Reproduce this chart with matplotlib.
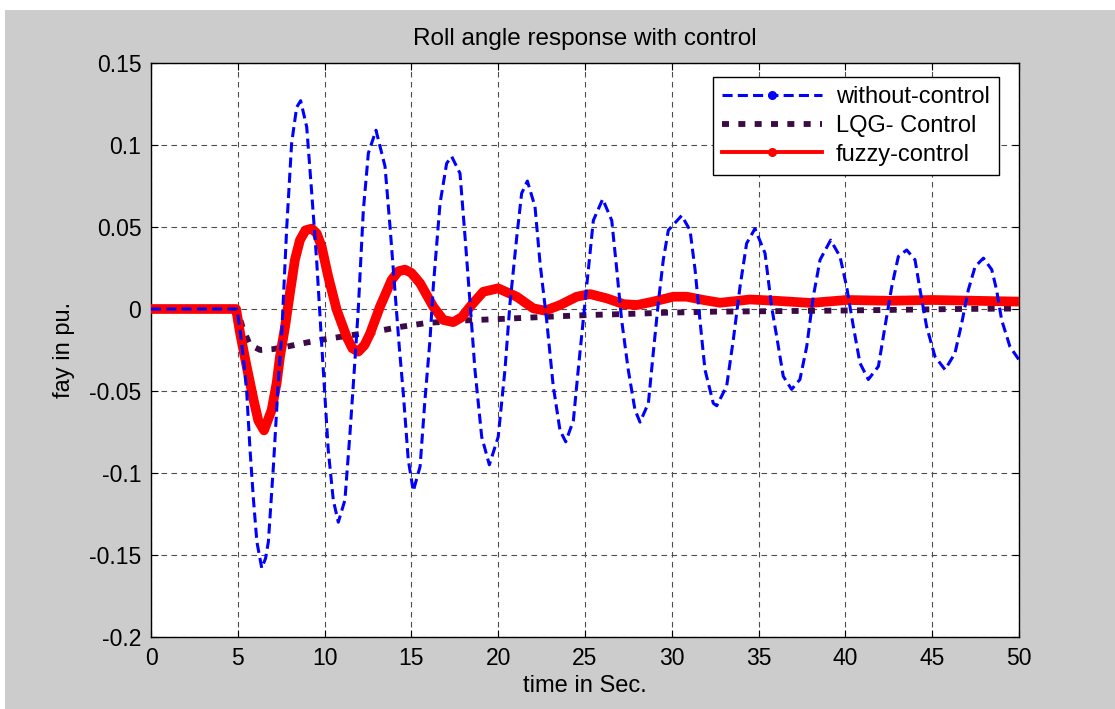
import matplotlib
matplotlib.use("Agg")
import matplotlib.pyplot as plt
from matplotlib.lines import Line2D
from matplotlib.patches import Rectangle

plt.rcParams['font.family'] = ['Liberation Sans', 'DejaVu Sans']
plt.rcParams['axes.unicode_minus'] = False

# without-control (blue dashed)
t_wo = [0, 4.95, 5.13, 5.32, 5.51, 5.7, 5.9, 6.1, 6.38, 6.6, 6.76, 7.05, 7.33, 7.53,
        7.82, 8.1, 8.39, 8.62, 8.97, 9.26, 9.54, 9.83, 10.21, 10.5, 10.79, 11.17,
        11.46, 11.75, 11.94, 12.23, 12.52, 12.96, 13.48, 13.77, 14.06, 14.3, 14.53,
        14.82, 15.11, 15.5, 15.78, 16.07, 16.26, 16.65, 17.03, 17.32, 17.8, 18.09,
        18.38, 18.66, 19.05, 19.49, 20.0, 20.39, 20.68, 21.07, 21.35, 21.68, 22.12,
        22.41, 22.79, 23.17, 23.56, 23.89, 24.33, 24.61, 24.9, 25.19, 25.48, 26.02,
        26.54, 26.83, 27.11, 27.49, 27.88, 28.17, 28.65, 28.93, 29.22, 29.51, 29.8,
        30.57, 31.05, 31.34, 31.62, 31.91, 32.39, 32.59, 33.16, 33.54, 33.93, 34.31,
        34.79, 35.37, 35.75, 36.14, 36.42, 36.9, 37.38, 37.77, 38.15, 38.54, 39.15,
        39.69, 40.07, 40.46, 40.84, 41.32, 41.9, 42.28, 42.67, 43.05, 43.53, 44.01,
        44.3, 44.68, 45.16, 45.74, 46.31, 46.7, 47.08, 47.47, 47.95, 48.43, 48.71,
        49.0, 49.48, 50.0]
y_wo = [0, 0, -0.013, -0.03, -0.05, -0.085, -0.116, -0.142, -0.158, -0.152, -0.142,
        -0.096, -0.045, -0.015, 0.05, 0.101, 0.123, 0.127, 0.111, 0.0705, 0.030,
        -0.021, -0.086, -0.1165, -0.13, -0.1165, -0.076, -0.031, 0.0, 0.06, 0.095,
        0.109, 0.087, 0.05, 0.0096, -0.023, -0.051, -0.092, -0.111, -0.096, -0.0555,
        -0.019, 0.0136, 0.0644, 0.0888, 0.093, 0.0827, 0.044, 0.0035, -0.037, -0.078,
        -0.095, -0.078, -0.037, 0.0035, 0.044, 0.0705, 0.078, 0.0624, 0.028, -0.0067,
        -0.047, -0.074, -0.081, -0.068, -0.037, -0.0067, 0.024, 0.054, 0.067, 0.054,
        0.024, -0.0067, -0.037, -0.0616, -0.069, -0.0575, -0.027, 0.0035, 0.030, 0.048,
        0.057, 0.048, 0.024, -0.0067, -0.037, -0.0575, -0.059, -0.047, -0.019, 0.0136,
        0.040, 0.049, 0.034, 0.0014, -0.023, -0.041, -0.049, -0.043, -0.023, 0.0075,
        0.030, 0.042, 0.032, 0.0136, -0.0108, -0.033, -0.043, -0.035, -0.0108, 0.0136,
        0.032, 0.036, 0.030, 0.0116, -0.0108, -0.029, -0.037, -0.027, -0.0087, 0.0116,
        0.0258, 0.031, 0.024, 0.0116, -0.0067, -0.023, -0.031]

# LQG- Control (dark purple dotted)
t_lqg = [0, 4.95, 5.3, 5.7, 6.3, 7.0, 7.8, 8.7, 9.7, 11.2, 12.8, 14.3, 15.9, 18.0,
         20.3, 22.7, 25.1, 27.5, 29.9, 32.6, 36.0, 39.3, 43.0, 46.5, 50.0]
y_lqg = [0, 0, -0.012, -0.022, -0.025, -0.0245, -0.023, -0.021, -0.019, -0.0165,
         -0.014, -0.011, -0.0085, -0.007, -0.006, -0.0048, -0.0037, -0.003, -0.0022,
         -0.0016, -0.0013, -0.001, -0.0005, 0.0, 0.0003]

# fuzzy-control (red)
t_fz = [0, 4.9, 5.13, 5.51, 5.9, 6.18, 6.51, 6.95, 7.24, 7.43, 7.72, 8.0, 8.29, 8.58,
        8.9, 9.26, 9.55, 9.83, 10.21, 10.7, 11.27, 11.6, 11.94, 12.3, 12.62, 13.19,
        13.86, 14.25, 14.63, 15.0, 15.5, 16.26, 16.84, 17.41, 17.9, 18.38, 19.14,
        20.0, 21.07, 22.02, 22.7, 23.56, 24.52, 25.29, 26.25, 27.21, 27.98, 28.93,
        30.09, 30.86, 31.82, 32.78, 33.4, 34.5, 36.0, 38.0, 40.1, 42.5, 45.0, 47.5, 50.0]
y_fz = [0, 0, -0.0146, -0.035, -0.055, -0.068, -0.074, -0.0616, -0.045, -0.029,
        -0.011, 0.0096, 0.030, 0.042, 0.048, 0.049, 0.046, 0.038, 0.0197, -0.0006,
        -0.017, -0.024, -0.026, -0.022, -0.015, 0.0014, 0.0177, 0.023, 0.024, 0.022,
        0.0157, 0.0014, -0.0067, -0.008, -0.005, 0.0014, 0.0105, 0.0126, 0.0075,
        0.0004, -0.001, 0.0024, 0.0075, 0.0091, 0.0065, 0.003, 0.0024, 0.0045, 0.0075,
        0.0075, 0.0055, 0.0038, 0.0045, 0.0058, 0.005, 0.0037, 0.0055, 0.005, 0.0055,
        0.005, 0.0045]

xticks = [0, 5, 10, 15, 20, 25, 30, 35, 40, 45, 50]
yticks = [-0.2, -0.15, -0.1, -0.05, 0, 0.05, 0.1, 0.15]
ytick_labels = ['-0.2', '-0.15', '-0.1', '-0.05', '0', '0.05', '0.1', '0.15']
labels = ['without-control', 'LQG- Control', 'fuzzy-control']

blue = '#0000FF'
purple = '#3C0A46'
red = '#FF0000'

fig = plt.figure(figsize=(11.15, 7.09), dpi=100, facecolor='white')
# grey matlab window background (white strip at top/left)
fig.patches.append(Rectangle((5 / 1115, 0), 1, 1 - 10 / 709, transform=fig.transFigure,
                             facecolor='#CCCCCC', edgecolor='none', zorder=-10))
ax = fig.add_axes([151 / 1115, 1 - 637 / 709, 868 / 1115, 574 / 709])
ax.set_facecolor('white')

ax.plot(t_lqg, y_lqg, color=purple, lw=4.2, ls=(0, (1.2, 1.6)), zorder=2)
ax.plot(t_fz, y_fz, color=red, lw=7, solid_joinstyle='round', solid_capstyle='round', zorder=3)
ax.plot(t_wo, y_wo, color=blue, lw=2.2, ls=(0, (3.3, 1.7)), zorder=4)

ax.set_xlim(0, 50)
ax.set_ylim(-0.2, 0.15)
ax.set_xticks(xticks)
ax.set_yticks(yticks)
ax.set_yticklabels(ytick_labels)
ax.tick_params(direction='in', length=5, width=0.8, labelsize=16.5, pad=7,
               top=True, right=True, colors='black')
ax.grid(True, color='0.3', ls=(0, (5, 4)), lw=0.8)
for s in ax.spines.values():
    s.set_linewidth(1.0)
    s.set_color('black')

ax.set_title('Roll angle response with control', fontsize=17.5, pad=13)
ax.set_xlabel('time in Sec.', fontsize=17, labelpad=4)
ax.set_ylabel('fay in pu.', fontsize=17, labelpad=10)

handles = [
    Line2D([], [], color=blue, lw=2.2, ls=(0, (3.3, 1.7)), marker='.', markersize=11),
    Line2D([], [], color=purple, lw=4.2, ls=(0, (1.2, 1.6))),
    Line2D([], [], color=red, lw=2.8, marker='.', markersize=11),
]
leg = ax.legend(handles, labels, loc='upper right', bbox_to_anchor=(999 / 1115, 1 - 77 / 709),
                bbox_transform=fig.transFigure, borderaxespad=0, fontsize=17,
                fancybox=False, framealpha=1, edgecolor='black', handlelength=4.2,
                handletextpad=0.6, labelspacing=0.28, borderpad=0.4)
leg.get_frame().set_linewidth(1.0)
leg.set_zorder(10)

fig.savefig('out.png', dpi=100, facecolor=fig.get_facecolor())
